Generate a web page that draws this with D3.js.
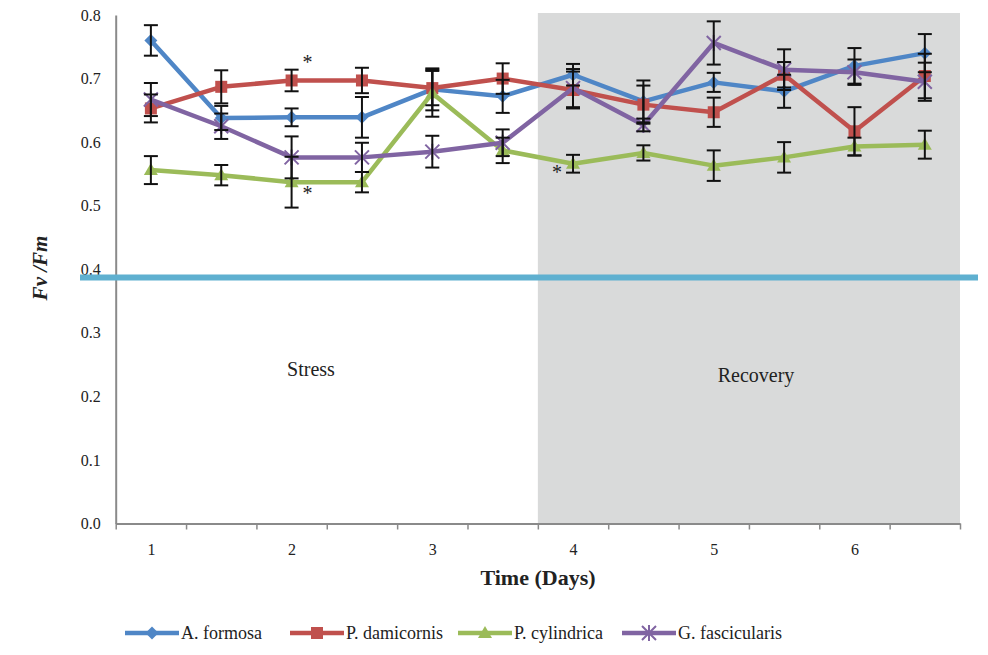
<!DOCTYPE html>
<html>
<head>
<meta charset="utf-8">
<script src="https://cdn.jsdelivr.net/npm/d3@7"></script>
<style>
  body { margin: 0; background: #fff; }
  text { font-family: "Liberation Serif", "DejaVu Serif", serif; }
</style>
</head>
<body>
<div id="chart"></div>
<script>
// sampling points (12 per experiment), labelled by day
const dayLabels = ['1', '2', '3', '4', '5', '6'];
const yTicks = [0, 0.1, 0.2, 0.3, 0.4, 0.5, 0.6, 0.7, 0.8];

const formosa = [0.760, 0.638, 0.639, 0.639, 0.683, 0.672, 0.706, 0.664, 0.694, 0.680, 0.720, 0.740];
const formosaErr = [0.024, 0.019, 0.014, 0.032, 0.033, 0.026, 0.017, 0.033, 0.015, 0.026, 0.028, 0.030];
const damicornis = [0.653, 0.687, 0.697, 0.697, 0.685, 0.700, 0.682, 0.659, 0.647, 0.706, 0.617, 0.704];
const damicornisErr = [0.022, 0.026, 0.017, 0.020, 0.027, 0.024, 0.029, 0.030, 0.023, 0.020, 0.038, 0.035];
const cylindrica = [0.556, 0.548, 0.537, 0.537, 0.677, 0.587, 0.566, 0.583, 0.563, 0.576, 0.593, 0.596];
const cylindricaErr = [0.022, 0.016, 0.040, 0.016, 0.037, 0.020, 0.014, 0.012, 0.024, 0.024, 0.014, 0.022];
const fascicularis = [0.667, 0.625, 0.576, 0.576, 0.585, 0.599, 0.685, 0.627, 0.756, 0.714, 0.710, 0.695];
const fascicularisErr = [0.026, 0.020, 0.033, 0.023, 0.025, 0.021, 0.030, 0.010, 0.034, 0.032, 0.020, 0.030];

const seriesNames = ['A. formosa', 'P. damicornis', 'P. cylindrica', 'G. fascicularis'];
// recovery phase starts after the 6th sampling point
const recoveryStart = 6;
const threshold = 0.387;
// significance marks: [point index, value, side]
const stars = [[2, 0.728, 1], [2, 0.522, 1], [6, 0.555, -1]];

const series = [
  { name: seriesNames[0], values: formosa, err: formosaErr, color: '#4f86c6', marker: 'diamond' },
  { name: seriesNames[1], values: damicornis, err: damicornisErr, color: '#c0504d', marker: 'square' },
  { name: seriesNames[2], values: cylindrica, err: cylindricaErr, color: '#9bbb59', marker: 'triangle' },
  { name: seriesNames[3], values: fascicularis, err: fascicularisErr, color: '#8064a2', marker: 'star' }
];

const width = 988;
const height = 655;
const n = formosa.length;
const font = '"Liberation Serif", "DejaVu Serif", serif';

const x = d3.scaleLinear().domain([0, n]).range([115.7, 960]);
const y = d3.scaleLinear().domain([0, 0.8]).range([523.5, 15]);

const svg = d3.select('#chart')
  .append('svg')
  .attr('width', width)
  .attr('height', height)
  .attr('font-family', font);

// recovery shading
svg.append('rect')
  .attr('x', x(recoveryStart))
  .attr('y', y(0.8) - 2)
  .attr('width', x(n) - x(recoveryStart))
  .attr('height', y(0) - y(0.8) + 2)
  .attr('fill', '#d9dada');

// y axis
const yAxis = svg.append('g')
  .attr('transform', `translate(${x(0)},0)`)
  .call(d3.axisLeft(y).tickValues(yTicks).tickFormat(d3.format('.1f')).tickSize(0).tickPadding(15));
yAxis.attr('font-family', font);
yAxis.select('.domain').attr('stroke', '#8a8a8a').attr('stroke-width', 2);
yAxis.selectAll('text').attr('font-size', 16).attr('fill', '#222');

// x axis: boundary ticks
const xAxis = svg.append('g')
  .attr('transform', `translate(0,${y(0)})`)
  .call(d3.axisBottom(x).tickValues(d3.range(0, n + 1)).tickFormat('').tickSize(6).tickSizeOuter(0));
xAxis.select('.domain').attr('stroke', '#8a8a8a').attr('stroke-width', 2);
xAxis.selectAll('.tick line').attr('stroke', '#8a8a8a').attr('stroke-width', 1.5);

// day labels under every second point
svg.append('g')
  .attr('transform', `translate(0,${y(0)})`)
  .attr('font-family', font)
  .call(d3.axisBottom(x)
    .tickValues(dayLabels.map((d, i) => i * 2 + 0.5))
    .tickFormat((d, i) => dayLabels[i])
    .tickSize(0).tickPadding(20))
  .attr('font-family', font)
  .call((g) => g.select('.domain').remove())
  .selectAll('text').attr('font-size', 16).attr('fill', '#222');

// axis titles
svg.append('text')
  .attr('x', 538).attr('y', 585)
  .attr('text-anchor', 'middle')
  .attr('font-size', 22).attr('font-weight', 'bold').attr('fill', '#222')
  .text('Time (Days)');

svg.append('text')
  .attr('transform', 'translate(47,268) rotate(-90)')
  .attr('text-anchor', 'middle')
  .attr('font-size', 21).attr('font-weight', 'bold').attr('font-style', 'italic').attr('fill', '#222')
  .text('Fv /Fm');

// phase labels
svg.append('text').attr('x', 311).attr('y', 376).attr('text-anchor', 'middle')
  .attr('font-size', 20).attr('fill', '#222').text('Stress');
svg.append('text').attr('x', 756).attr('y', 382).attr('text-anchor', 'middle')
  .attr('font-size', 20).attr('fill', '#222').text('Recovery');

// threshold line
svg.append('line')
  .attr('x1', 80).attr('x2', 978)
  .attr('y1', y(threshold)).attr('y2', y(threshold))
  .attr('stroke', '#5fb0d0').attr('stroke-width', 6);

const cx = (i) => x(i + 0.5);

function drawMarker(g, type, color) {
  if (type === 'diamond') {
    g.append('path').attr('d', 'M0,-6.5L6.5,0L0,6.5L-6.5,0Z').attr('fill', color);
  } else if (type === 'square') {
    g.append('rect').attr('x', -6).attr('y', -6).attr('width', 12).attr('height', 12).attr('fill', color);
  } else if (type === 'triangle') {
    g.append('path').attr('d', 'M0,-7L7,5L-7,5Z').attr('fill', color);
  } else {
    g.append('path').attr('d', 'M-7,-7L7,7M-7,7L7,-7M0,-8L0,8')
      .attr('stroke', color).attr('stroke-width', 2).attr('fill', 'none');
  }
}

const line = d3.line().x((d, i) => cx(i)).y((d) => y(d));

series.forEach((s) => {
  svg.append('path')
    .datum(s.values)
    .attr('d', line)
    .attr('fill', 'none')
    .attr('stroke', s.color)
    .attr('stroke-width', 4.5)
    .attr('stroke-linejoin', 'round');
  s.values.forEach((v, i) => {
    const g = svg.append('g').attr('transform', `translate(${cx(i)},${y(v)})`);
    drawMarker(g, s.marker, s.color);
  });
});

// error bars
series.forEach((s) => {
  const eb = svg.append('g').attr('stroke', '#111').attr('stroke-width', 2);
  s.values.forEach((v, i) => {
    const top = y(v + s.err[i]);
    const bot = y(v - s.err[i]);
    eb.append('line').attr('x1', cx(i)).attr('x2', cx(i)).attr('y1', top).attr('y2', bot);
    eb.append('line').attr('x1', cx(i) - 7).attr('x2', cx(i) + 7).attr('y1', top).attr('y2', top);
    eb.append('line').attr('x1', cx(i) - 7).attr('x2', cx(i) + 7).attr('y1', bot).attr('y2', bot);
  });
});

// significance stars
svg.selectAll('.star')
  .data(stars)
  .join('text')
  .attr('class', 'star')
  .attr('x', (d) => cx(d[0]) + d[2] * 16)
  .attr('y', (d) => y(d[1]) + 8)
  .attr('text-anchor', 'middle')
  .attr('font-size', 20)
  .attr('fill', '#222')
  .text('*');

// legend
const legendX = [125, 290, 458, 622];
const legend = svg.append('g').attr('transform', 'translate(0,633)');
series.forEach((s, i) => {
  const g = legend.append('g').attr('transform', `translate(${legendX[i]},0)`);
  g.append('line').attr('x1', 0).attr('x2', 54).attr('stroke', s.color).attr('stroke-width', 4.5);
  drawMarker(g.append('g').attr('transform', 'translate(27,0)'), s.marker, s.color);
  g.append('text').attr('x', 56).attr('y', 6).attr('font-size', 18).attr('fill', '#222').text(s.name);
});
</script>
</body>
</html>
